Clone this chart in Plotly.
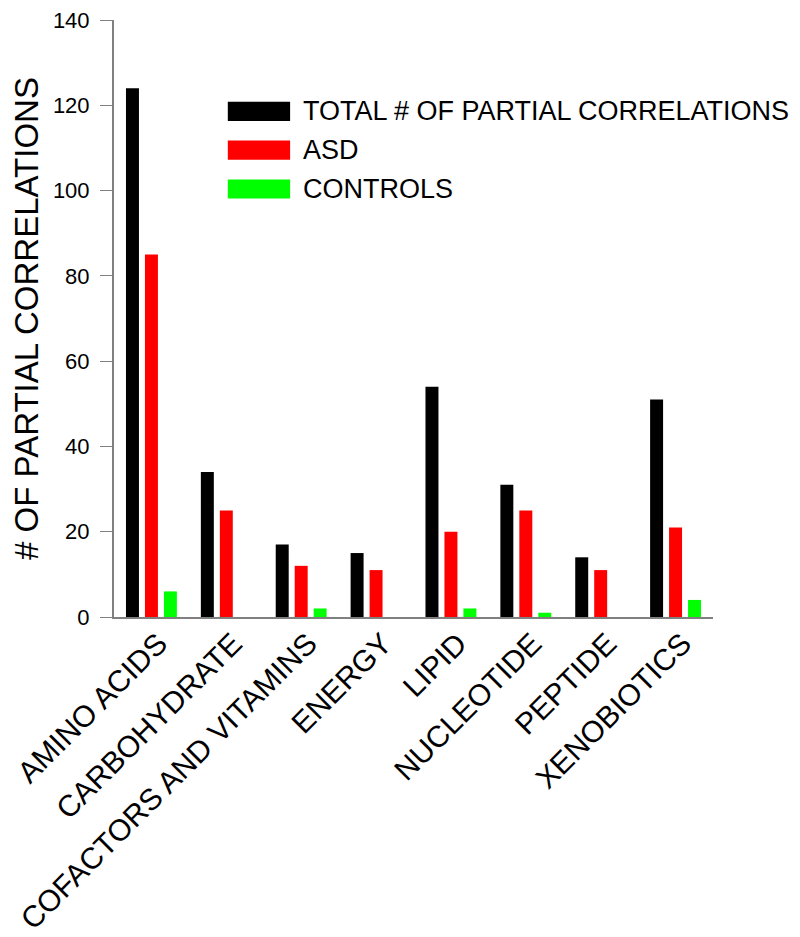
import plotly.graph_objects as go

categories = ["AMINO ACIDS", "CARBOHYDRATE", "COFACTORS AND VITAMINS", "ENERGY",
              "LIPID", "NUCLEOTIDE", "PEPTIDE", "XENOBIOTICS"]
series_names = ["TOTAL # OF PARTIAL CORRELATIONS", "ASD", "CONTROLS"]
total_vals = [124, 34, 17, 15, 54, 31, 14, 51]
asd_vals = [85, 25, 12, 11, 20, 25, 11, 21]
control_vals = [6, 0, 2, 0, 2, 1, 0, 4]
colors = ["#000000", "#ff0000", "#00ff00"]
y_ticks = [0, 20, 40, 60, 80, 100, 120, 140]

FONT = "Liberation Sans, Arial, sans-serif"

fig = go.Figure()
for name, vals, col in zip(series_names, [total_vals, asd_vals, control_vals], colors):
    fig.add_trace(go.Bar(x=categories, y=vals, name=name, marker_color=col,
                         marker_line_width=0, showlegend=False))

# custom legend (large swatches like the original)
leg_y = [0.847, 0.782, 0.717]
for name, col, yy in zip(series_names, colors, leg_y):
    fig.add_shape(type="rect", xref="paper", yref="paper",
                  x0=0.19, x1=0.294, y0=yy - 0.016, y1=yy + 0.016,
                  fillcolor=col, line_width=0)
    fig.add_annotation(xref="paper", yref="paper", x=0.313, y=yy, text=name,
                       showarrow=False, xanchor="left", yanchor="middle",
                       font=dict(family=FONT, size=27, color="black"))

fig.update_layout(
    width=800, height=937,
    margin=dict(l=106, r=95, t=12, b=328),
    paper_bgcolor="white", plot_bgcolor="white",
    barmode="group", bargap=0.24, bargroupgap=0.316,
    font=dict(family=FONT, color="black"),
)
fig.update_xaxes(showline=True, linecolor="#808080", linewidth=2,
                 ticks="", tickangle=-45, automargin=False,
                 ticklabelshift=7, ticklabelstandoff=-5,
                 tickfont=dict(family=FONT, size=30, color="black"),
                 showgrid=False)
fig.update_yaxes(range=[0, 140], tickvals=y_ticks, showline=True, linecolor="#808080",
                 linewidth=2, ticks="outside", ticklen=12, tickcolor="#808080", tickwidth=1,
                 ticklabelstandoff=6, automargin=False, ticklabeloverflow="allow",
                 tickfont=dict(family=FONT, size=22, color="black"),
                 showgrid=False, zeroline=False,
                 title=dict(text="# OF PARTIAL CORRELATIONS",
                            font=dict(family=FONT, size=33, color="black"), standoff=18))

fig.write_html("out.html")
